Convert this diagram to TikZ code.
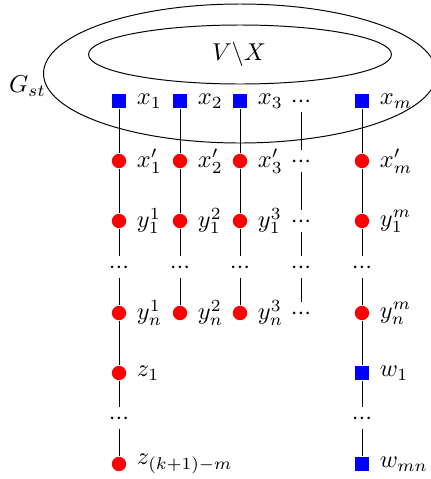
\documentclass[tikz,border=0pt]{standalone}
\begin{document}
\begin{tikzpicture}[x=0.41pt,y=-0.41pt,
  sq/.style={rectangle,fill=blue,inner sep=0pt,minimum size=5.9pt},
  rd/.style={circle,fill=red,inner sep=0pt,minimum size=5.9pt},
  dt/.style={rectangle,inner sep=0pt,minimum height=8.4pt,text height=5pt,text depth=0pt},
  every label/.style={inner sep=0pt},
  label distance=4.0pt,
  ln/.style={line width=0.4pt}]
\useasboundingbox (0,0) rectangle (431,479);
\newcommand{\vd}{${\cdot}{\cdot}{\cdot}$}
% ellipses
\draw[ln] (240,73.5) ellipse [x radius=196.5, y radius=69.5];
\draw[ln] (240,54.5) ellipse [x radius=151.5, y radius=29.5];
\node (vx) at (239,54) {$V\backslash X$};
\node[inner sep=0pt] (gst) at (27.5,86) {$G_{st}$};
% column 1
\node[sq,label=right:$x_1$] (x1) at (119,101) {};
\node[rd,label=right:$x'_1$] (xp1) at (119,161) {};
\node[rd,label=right:$y^1_1$] (ya1) at (119,221) {};
\node[dt] (da1) at (119,267) {\vd};
\node[rd,label=right:$y^1_n$] (yb1) at (119,313) {};
\node[rd,label=right:$z_1$] (z1) at (119,373) {};
\node[dt] (dz) at (119,418) {\vd};
\node[rd,label=right:$z_{(k+1)-m}$] (zl) at (119,464) {};
% column 2
\node[sq,label=right:$x_2$] (x2) at (180,101) {};
\node[rd,label=right:$x'_2$] (xp2) at (180,161) {};
\node[rd,label=right:$y^2_1$] (ya2) at (180,221) {};
\node[dt] (da2) at (180,267) {\vd};
\node[rd,label=right:$y^2_n$] (yb2) at (180,313) {};
% column 3
\node[sq,label=right:$x_3$] (x3) at (240,101) {};
\node[rd,label=right:$x'_3$] (xp3) at (240,161) {};
\node[rd,label=right:$y^3_1$] (ya3) at (240,221) {};
\node[dt] (da3) at (240,267) {\vd};
\node[rd,label=right:$y^3_n$] (yb3) at (240,313) {};
% column 4 (dots)
\node[dt] (d1) at (301,101) {\vd};
\node[dt] (d2) at (301,161) {\vd};
\node[dt] (d3) at (301,221) {\vd};
\node[dt] (d4) at (301,267) {\vd};
\node[dt] (d5) at (301,313) {\vd};
% column m
\node[sq,label=right:$x_m$] (xm) at (362,101) {};
\node[rd,label=right:$x'_m$] (xpm) at (362,161) {};
\node[rd,label=right:$y^m_1$] (yam) at (362,221) {};
\node[dt] (dam) at (362,267) {\vd};
\node[rd,label=right:$y^m_n$] (ybm) at (362,313) {};
\node[sq,label=right:$w_1$] (w1) at (362,373) {};
\node[dt] (dw) at (362,418) {\vd};
\node[sq,label=right:$w_{mn}$] (wmn) at (362,464) {};
% edges
\draw[ln] (x1) -- (xp1) -- (ya1) -- (da1) -- (yb1) -- (z1) -- (dz) -- (zl);
\draw[ln] (x2) -- (xp2) -- (ya2) -- (da2) -- (yb2);
\draw[ln] (x3) -- (xp3) -- (ya3) -- (da3) -- (yb3);
\draw[ln] (d1) -- (d2) -- (d3) -- (d4) -- (d5);
\draw[ln] (xm) -- (xpm) -- (yam) -- (dam) -- (ybm) -- (w1) -- (dw) -- (wmn);
\end{tikzpicture}
\end{document}
